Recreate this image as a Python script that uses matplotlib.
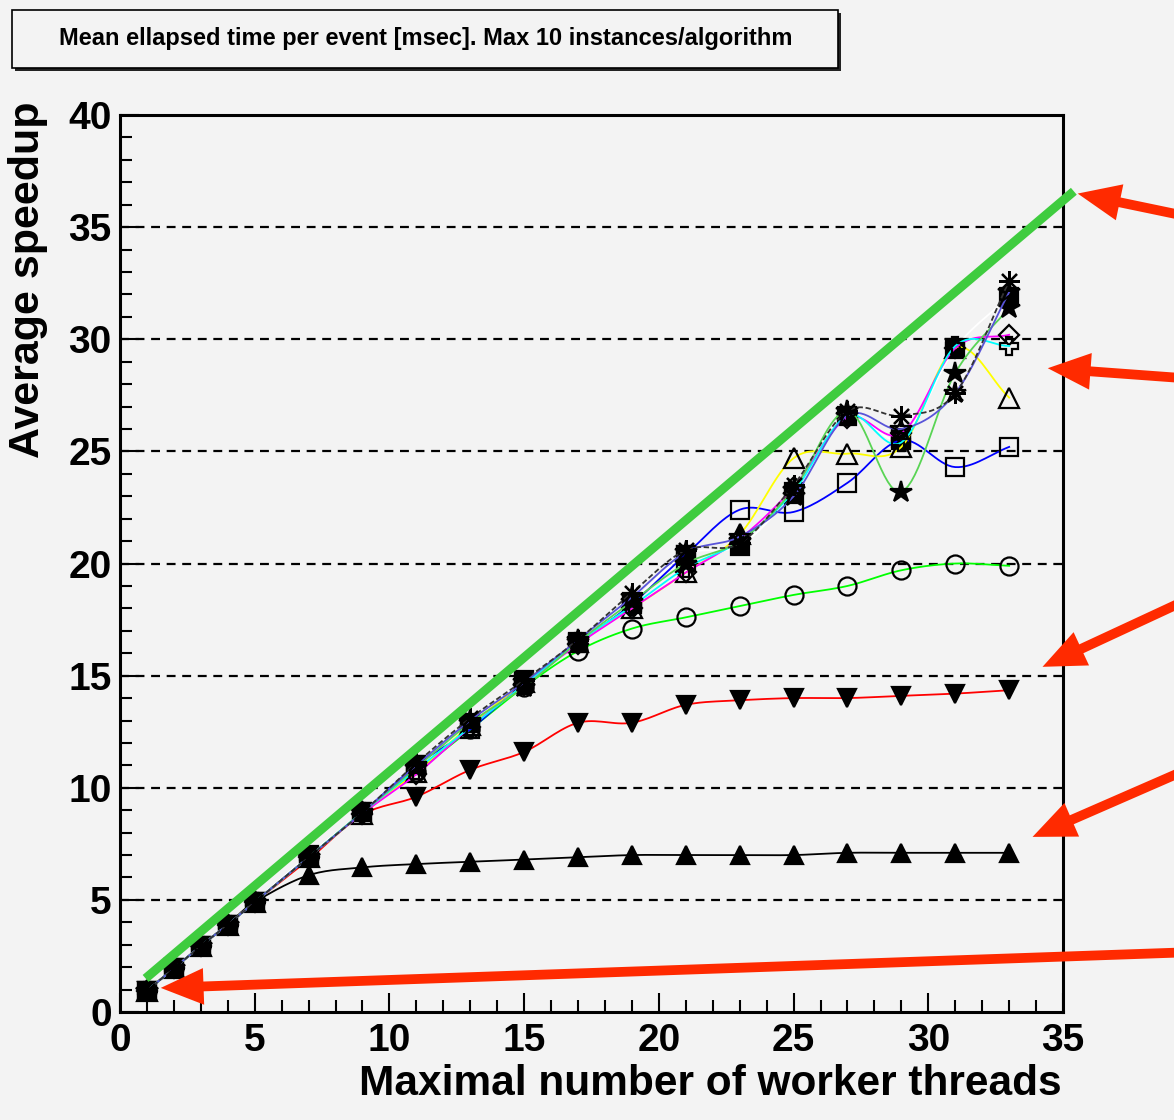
import numpy as np
import matplotlib.pyplot as plt
from matplotlib.patches import Rectangle, FancyArrowPatch

BG = "#f3f3f3"

threads = [1, 2, 3, 4, 5, 7, 9, 11, 13, 15, 17, 19, 21, 23, 25, 27, 29, 31, 33]
low = [0.95, 1.95, 2.95, 3.9, 4.9]

sp_full_square = low + [7.0, 8.9, 11.0, 12.9, 14.8, 16.5, 18.3, 20.4, 20.8, 23.2, 26.6, 25.6, 29.6, 31.9]
sp_tri_up = low + [6.1, 6.45, 6.6, 6.7, 6.8, 6.9, 7.0, 7.0, 7.0, 7.0, 7.1, 7.1, 7.1, 7.1]
sp_tri_down = low + [6.8, 8.8, 9.6, 10.8, 11.6, 12.9, 12.9, 13.7, 13.9, 14.0, 14.0, 14.1, 14.2, 14.35]
sp_circle = low + [6.9, 8.9, 10.7, 12.6, 14.5, 16.1, 17.1, 17.6, 18.1, 18.6, 19.0, 19.7, 20.0, 19.9]
sp_open_square = low + [6.9, 8.9, 11.0, 12.6, 14.7, 16.45, 18.2, 20.4, 22.4, 22.3, 23.6, 25.5, 24.3, 25.2]
sp_open_tri = low + [6.9, 8.85, 10.7, 12.8, 14.7, 16.5, 18.0, 19.6, 21.3, 24.7, 24.9, 25.2, 29.6, 27.4]
sp_diamond = low + [6.9, 8.85, 10.6, 12.7, 14.6, 16.4, 18.0, 19.6, 21.1, 23.4, 26.5, 25.8, 29.6, 30.2]
sp_cross = low + [6.9, 8.9, 10.8, 12.7, 14.6, 16.5, 18.1, 19.8, 21.0, 23.2, 26.6, 25.4, 29.7, 29.7]
sp_star = low + [6.9, 8.9, 10.9, 12.9, 14.5, 16.5, 18.3, 20.0, 21.0, 23.3, 26.8, 23.2, 28.5, 31.4]
sp_open_star = low + [6.9, 8.9, 11.0, 13.0, 14.7, 16.6, 18.5, 20.5, 21.2, 23.0, 26.6, 26.0, 27.6, 32.1]
sp_asterisk = low + [6.9, 8.9, 11.1, 13.1, 14.8, 16.6, 18.7, 20.6, 20.9, 23.5, 26.8, 26.6, 27.6, 32.6]

# ideal speedup guide, drawn on top
ideal_x = [0.95, 35.4]
ideal_y = [1.5, 36.6]

# (values, line colour, line style, marker, filled, marker size)
series = [
    (sp_full_square, "white", "-", "s", True, 13),
    (sp_tri_up, "black", "-", "^", True, 13),
    (sp_tri_down, "red", "-", "v", True, 13),
    (sp_circle, "#00ff00", "-", "o", False, 13),
    (sp_open_square, "blue", "-", "s", False, 13),
    (sp_open_tri, "#ffff00", "-", "^", False, 14),
    (sp_diamond, "magenta", "-", "D", False, 10),
    (sp_cross, "cyan", "-", "P", False, 13),
    (sp_star, "#59d454", "-", "*", True, 16),
    (sp_open_star, "#5954d9", "-", "*", False, 16),
    (sp_asterisk, "#333333", (0, (3, 1.5)), (8, 2, 0), True, 15),
]


def smooth(x, y, n=16):
    # Catmull-Rom curve through the points, like ROOT's "C" draw option
    x = np.asarray(x, float)
    y = np.asarray(y, float)
    px = np.concatenate([[2 * x[0] - x[1]], x, [2 * x[-1] - x[-2]]])
    py = np.concatenate([[2 * y[0] - y[1]], y, [2 * y[-1] - y[-2]]])
    t = np.linspace(0, 1, n, endpoint=False)
    xs, ys = [], []
    for i in range(1, len(px) - 2):
        for p, out in ((px, xs), (py, ys)):
            p0, p1, p2, p3 = p[i - 1], p[i], p[i + 1], p[i + 2]
            out.append(0.5 * (2 * p1 + (-p0 + p2) * t
                              + (2 * p0 - 5 * p1 + 4 * p2 - p3) * t ** 2
                              + (-p0 + 3 * p1 - 3 * p2 + p3) * t ** 3))
    xs.append([x[-1]])
    ys.append([y[-1]])
    return np.concatenate(xs), np.concatenate(ys)


plt.rcParams["font.family"] = ["Liberation Sans", "DejaVu Sans"]
plt.rcParams["font.weight"] = "bold"

W, H = 1174.0, 1120.0
fig = plt.figure(figsize=(11.74, 11.2), dpi=100, facecolor=BG)
ax = fig.add_axes([0.1022, 0.0964, 0.8033, 0.8009])
ax.set_facecolor(BG)

for k, (vals, col, ls, mk, filled, ms) in enumerate(series):
    sx, sy = smooth(threads, vals)
    ax.plot(sx, sy, color=col, lw=1.3, ls=ls, zorder=3 + k * 0.1)
    ax.plot(threads, vals, ls="none", marker=mk, ms=ms,
            mfc="black" if filled else "none", mec="black", mew=1.6,
            zorder=3.05 + k * 0.1)

ax.plot(ideal_x, ideal_y, color="#3fcc3f", lw=6.5, solid_capstyle="butt",
        clip_on=False, zorder=6)

ax.set_xlim(0, 35)
ax.set_ylim(0, 40)
ax.set_xticks(range(0, 36, 5))
ax.set_xticks(range(0, 36), minor=True)
ax.set_yticks(range(0, 41, 5))
ax.set_yticks(range(0, 41), minor=True)
for yv in range(5, 40, 5):
    ax.axhline(yv, color="black", lw=1.6, ls=(0, (4, 3)), zorder=1)

ax.tick_params(which="both", direction="in", top=False, right=False,
               width=1.5, color="black")
ax.tick_params(which="major", length=14, labelsize=28, pad=8)
ax.tick_params(which="minor", length=8.5)
ax.tick_params(axis="y", pad=6)
for s in ax.spines.values():
    s.set_linewidth(2.2)

fig.text(1062 / W, 1 - 1084 / H, "Maximal number of worker threads",
         ha="right", va="center", fontsize=30.5, fontweight="bold")
fig.text(28 / W, 1 - 102 / H, "Average speedup", rotation=90,
         ha="center", va="top", fontsize=31, fontweight="bold")

# title box with drop shadow
fig.add_artist(Rectangle((15 / W, 1 - 71 / H), 826 / W, 58 / H,
                         transform=fig.transFigure, facecolor="#222222",
                         edgecolor="none"))
fig.add_artist(Rectangle((12 / W, 1 - 68 / H), 826 / W, 58 / H,
                         transform=fig.transFigure, facecolor=BG,
                         edgecolor="black", lw=1.2))
fig.text(426 / W, 1 - 38 / H,
         "Mean ellapsed time per event [msec]. Max 10 instances/algorithm",
         ha="center", va="center", fontsize=17, fontweight="bold")

# red pointer arrows
arrows = [
    ((1195, 218), (1075, 193)),
    ((1195, 379), (1045, 368)),
    ((1195, 596), (1040, 668)),
    ((1195, 766), (1030, 838)),
    ((1195, 952), (158, 988)),
]
for (x0, y0), (x1, y1) in arrows:
    fig.add_artist(FancyArrowPatch(
        (x0 / W, 1 - y0 / H), (x1 / W, 1 - y1 / H),
        transform=fig.transFigure,
        arrowstyle="simple,head_length=1.4,head_width=1.2,tail_width=0.32",
        mutation_scale=22, color="#ff2a00", lw=0, zorder=10))

fig.savefig("out.png", dpi=100, facecolor=BG)
